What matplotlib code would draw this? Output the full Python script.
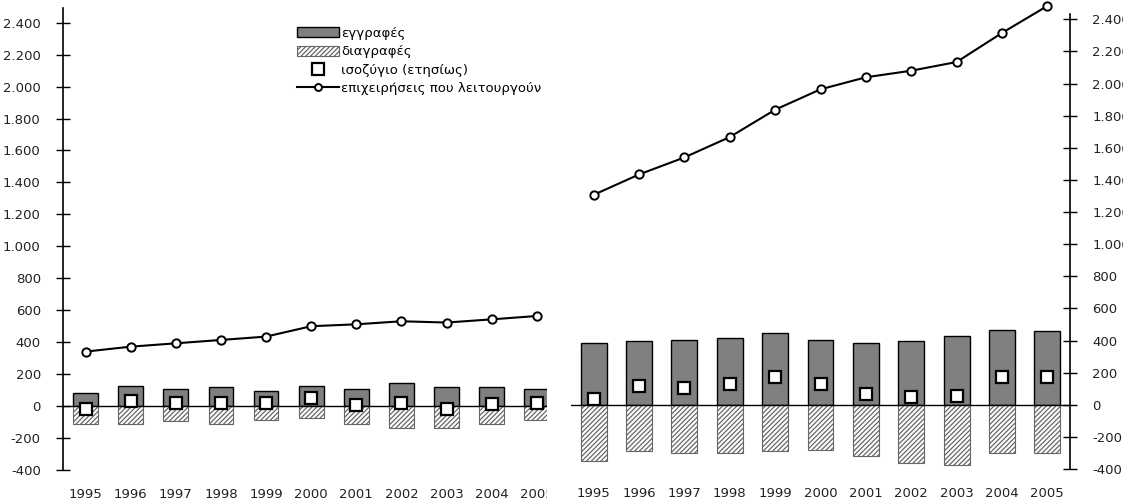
import matplotlib
matplotlib.use("Agg")
import matplotlib.pyplot as plt
from matplotlib.patches import Patch, Rectangle
from matplotlib.lines import Line2D

plt.rcParams['font.family'] = ['DejaVu Sans']
plt.rcParams['font.size'] = 9.5
plt.rcParams['hatch.linewidth'] = 0.9
plt.rcParams['hatch.color'] = '#222222'

years = [1995, 1996, 1997, 1998, 1999, 2000, 2001, 2002, 2003, 2004, 2005]

left_reg = [84, 128, 107, 117, 96, 128, 107, 146, 117, 117, 107]
left_del = [-109, -109, -96, -109, -86, -75, -109, -138, -138, -109, -86]
left_bal = [-21, 31, 21, 21, 21, 52, 6, 21, -21, 10, 21]
left_op = [341, 372, 393, 414, 435, 500, 512, 531, 523, 543, 564]

right_reg = [385, 395, 405, 416, 449, 405, 385, 395, 426, 468, 460]
right_del = [-353, -290, -301, -301, -290, -280, -322, -364, -376, -301, -301]
right_bal = [36, 117, 107, 130, 171, 130, 65, 46, 52, 171, 171]
right_op = [1307, 1434, 1540, 1667, 1837, 1964, 2039, 2080, 2134, 2315, 2483]

yticks = list(range(-400, 2401, 200))
ytick_labels = [f"{v:,}".replace(",", ".") for v in yticks]

legend_labels = ["εγγραφές", "διαγραφές", "ισοζύγιο (ετησίως)",
                 "επιχειρήσεις που λειτουργούν"]

W, H = 1123, 504
fig = plt.figure(figsize=(W / 100, H / 100), dpi=100)


def px_axes(x0, x1, y_bottom, y_top):
    return fig.add_axes([x0 / W, (H - y_bottom) / H, (x1 - x0) / W, (y_bottom - y_top) / H])


def draw_panel(ax, reg, dele, bal, op, bw):
    ax.bar(years, reg, width=bw, color='#808080', edgecolor='black', linewidth=1.0, zorder=2)
    ax.bar(years, dele, width=bw, color='white', edgecolor='#666666', hatch='///////',
           linewidth=0.8, zorder=2)
    ax.axhline(0, color='black', linewidth=1.0, zorder=3)
    ax.plot(years, bal, linestyle='none', marker='s', markersize=8,
            markerfacecolor='white', markeredgecolor='black', markeredgewidth=1.6, zorder=4)
    ax.plot(years, op, color='black', linewidth=1.5, marker='o', markersize=6,
            markerfacecolor='white', markeredgecolor='black', markeredgewidth=1.4,
            zorder=5, clip_on=False)
    ax.set_xticks(years)
    ax.set_xticklabels([str(y) for y in years])
    ax.tick_params(axis='x', length=0, pad=13, labelsize=9.5, colors='#222222')
    ax.set_yticks(yticks)
    ax.set_yticklabels(ytick_labels)
    ax.tick_params(axis='y', direction='inout', length=10, width=1.0, pad=11,
                   labelsize=9.5, labelcolor='#222222')
    for s in ['top', 'bottom']:
        ax.spines[s].set_visible(False)
    ax.patch.set_alpha(0)


# Left panel
axL = px_axes(63, 547.3, 470, 8.3)
draw_panel(axL, left_reg, left_del, left_bal, left_op, 0.55)
axL.set_xlim(1994.5, 1994.5 + (547.3 - 63) / 45.13)
axL.set_ylim(-400, 2490)
axL.spines['right'].set_visible(False)
axL.spines['left'].set_linewidth(1.2)

# Right panel
axR = px_axes(571, 1070, 469, 14)
draw_panel(axR, right_reg, right_del, right_bal, right_op, 0.57)
axR.set_xlim(1994.5, 2005.5)
axR.set_ylim(-400, 2433)
axR.spines['left'].set_visible(False)
axR.spines['right'].set_linewidth(1.2)
axR.yaxis.tick_right()

# mask the cut-off end of the left chart
fig.add_artist(Rectangle((547.3 / W, 0), (570 - 547.3) / W, 40 / H,
                         transform=fig.transFigure, facecolor='white',
                         edgecolor='none', zorder=10))

handles = [
    Patch(facecolor='#808080', edgecolor='black', linewidth=1.0),
    Patch(facecolor='white', edgecolor='#666666', hatch='///////', linewidth=0.8),
    Line2D([], [], linestyle='none', marker='s', markersize=8, markerfacecolor='white',
           markeredgecolor='black', markeredgewidth=1.6),
    Line2D([], [], color='black', linewidth=1.5, marker='o', markersize=5,
           markerfacecolor='white', markeredgecolor='black', markeredgewidth=1.4),
]
fig.legend(handles, legend_labels, loc='upper left',
           bbox_to_anchor=(297 / W, (H - 27) / H), frameon=False,
           borderpad=0, borderaxespad=0, handlelength=3.2, handleheight=0.8,
           handletextpad=0.15, labelspacing=0.4, fontsize=9.5)

fig.savefig("out.png", dpi=100)
